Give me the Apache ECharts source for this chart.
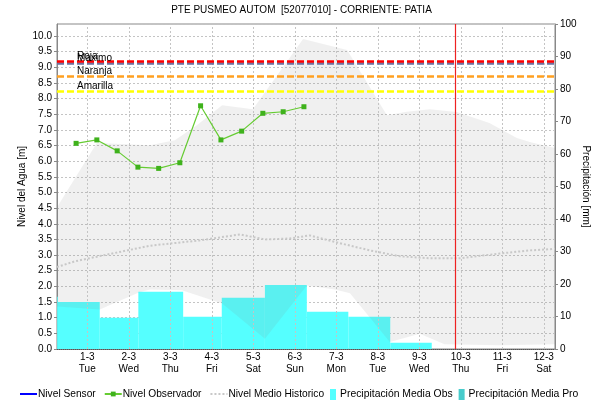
<!DOCTYPE html>
<html>
<head>
<meta charset="utf-8">
<script src="https://cdn.jsdelivr.net/npm/echarts@6/dist/echarts.min.js"></script>
<style>
  html, body { margin: 0; padding: 0; background: #ffffff; }
  #chart { width: 603px; height: 404px; }
</style>
</head>
<body>
<div id="chart"></div>
<script>
// Days on the horizontal axis: 1 = 1 March
const dayTicks = [1, 2, 3, 4, 5, 6, 7, 8, 9, 10, 11, 12];
const dateLabels = ['1-3', '2-3', '3-3', '4-3', '5-3', '6-3', '7-3', '8-3', '9-3', '10-3', '11-3', '12-3'];
const weekdayLabels = ['Tue', 'Wed', 'Thu', 'Fri', 'Sat', 'Sun', 'Mon', 'Tue', 'Wed', 'Thu', 'Fri', 'Sat'];

// Nivel Observador (m), twice a day
const obsTimes = [0.73, 1.23, 1.72, 2.22, 2.72, 3.23, 3.73, 4.22, 4.72, 5.23, 5.72, 6.22];
const obsLevels = [6.57, 6.68, 6.33, 5.81, 5.77, 5.95, 7.77, 6.68, 6.96, 7.53, 7.58, 7.74];

// Nivel Medio Historico (m)
const meanTimes = [0.27, 0.70, 1.23, 2.51, 3.71, 4.68, 5.28, 5.88, 6.36, 7.09, 7.81, 8.54, 9.26, 9.98, 10.94, 11.66, 12.27];
const meanLevels = [2.62, 2.80, 2.95, 3.30, 3.47, 3.66, 3.50, 3.53, 3.63, 3.38, 3.15, 2.96, 2.90, 2.90, 3.05, 3.15, 3.20];

// Historical range (m): upper and lower envelope
const bandUpperTimes = [0.27, 1.23, 2.51, 3.11, 3.64, 4.25, 4.99, 6.20, 7.26, 8.22, 8.70, 9.25, 9.90, 10.69, 11.35, 11.66, 12.27];
const bandUpperLevels = [4.53, 6.58, 6.51, 6.67, 7.15, 7.79, 7.66, 9.90, 9.55, 7.47, 7.58, 7.66, 7.57, 7.22, 6.74, 6.61, 6.42];
const bandLowerTimes = [0.27, 1.30, 2.27, 2.51, 3.28, 4.25, 5.28, 6.29, 6.97, 7.33, 8.29, 9.01, 9.61, 10.94, 12.27];
const bandLowerLevels = [1.36, 1.26, 1.82, 1.90, 1.88, 1.45, 0.33, 2.03, 1.90, 1.78, 0.22, 0.49, 0.15, 0.12, 0.15];

// Precipitación Media Obs (mm): period edges and totals
const precipEdges = [-0.71, 0.29, 1.30, 2.23, 3.31, 4.24, 5.28, 6.29, 7.29, 8.30, 9.30];
const precipObs = [16.1, 14.5, 9.6, 17.6, 9.9, 15.8, 19.7, 11.5, 9.9, 1.9];
const precipPro = [];
const nivelSensor = [];

// Alert thresholds (m)
const thresholdNames = ['Maximo', 'Roja', 'Naranja', 'Amarilla'];
const thresholdLevels = [9.13, 9.195, 8.72, 8.22];
const thresholdColors = ['#6e6e9e', '#ff0000', '#ffa020', '#ffff00'];

// Current time marker
const nowDay = 9.86;

const FONT = '"Liberation Sans Narrow", "Liberation Sans", Arial, sans-serif';
const X_MIN = 0.27, X_MAX = 12.27;

const chart = echarts.init(document.getElementById('chart'), null, { renderer: 'canvas' });

const zip = (xs, ys) => xs.map((x, i) => [x, ys[i]]);

const option = {
  animation: false,
  backgroundColor: '#ffffff',
  textStyle: { fontFamily: FONT },
  title: {
    text: 'PTE PUSMEO AUTOM  [52077010] - CORRIENTE: PATIA',
    left: 'center',
    top: 0,
    textStyle: { fontFamily: FONT, fontSize: 10, fontWeight: 'normal', color: '#000' }
  },
  grid: {
    left: 57, right: 48, top: 24, bottom: 55,
    show: true, borderColor: '#888', borderWidth: 1, backgroundColor: '#fff'
  },
  legend: [
    {
      data: [
        { name: 'Nivel Sensor', itemStyle: { opacity: 0 } },
        { name: 'Nivel Observador' },
        { name: 'Nivel Medio Historico', itemStyle: { opacity: 0 } }
      ],
      left: 14, top: 384, itemWidth: 17, itemHeight: 6, itemGap: 8,
      textStyle: { fontFamily: FONT, fontSize: 10.2, color: '#000', padding: [0, 0, 0, -4] }
    },
    {
      data: [
        { name: 'Precipitación Media Obs', icon: 'rect' },
        { name: 'Precipitación Media Pro', icon: 'rect' }
      ],
      left: 325, top: 384, itemWidth: 6, itemHeight: 11, itemGap: 6,
      textStyle: { fontFamily: FONT, fontSize: 10.4, color: '#000', padding: [0, 0, 0, -1] }
    }
  ],
  xAxis: {
    type: 'value', min: X_MIN, max: X_MAX,
    axisLine: { show: true, lineStyle: { color: '#555', type: [1, 1], width: 1 } },
    axisTick: { show: false, customValues: dayTicks },
    splitLine: { show: false },
    axisLabel: {
      customValues: dayTicks,
      fontFamily: FONT, fontSize: 10, color: '#000', lineHeight: 12, margin: 2,
      formatter: v => {
        const i = dayTicks.indexOf(Math.round(v));
        return i < 0 ? '' : dateLabels[i] + '\n' + weekdayLabels[i];
      }
    }
  },
  yAxis: [
    {
      type: 'value', min: 0, max: 10.383, interval: 0.5, position: 'left',
      name: 'Nivel del Agua [m]', nameLocation: 'middle', nameGap: 30, nameMoveOverlap: false,
      nameTextStyle: { fontFamily: FONT, fontSize: 10, color: '#000' },
      axisLine: { show: true, lineStyle: { color: '#888' } },
      axisTick: { show: true, inside: false, length: 3, lineStyle: { color: '#888' } },
      axisLabel: {
        fontFamily: FONT, fontSize: 10, color: '#000', margin: 5, showMaxLabel: false,
        formatter: v => v.toFixed(1)
      },
      splitLine: { show: true, lineStyle: { color: '#c4c4c4', type: [2, 2], width: 1 } }
    },
    {
      type: 'value', min: 0, max: 100, interval: 10, position: 'right',
      name: 'Precipitación [mm]', nameLocation: 'middle', nameGap: 26, nameRotate: -90, nameMoveOverlap: false,
      nameTextStyle: { fontFamily: FONT, fontSize: 10, color: '#000' },
      axisLine: { show: true, lineStyle: { color: '#888' } },
      axisTick: { show: true, inside: false, length: 3, lineStyle: { color: '#888' } },
      axisLabel: { fontFamily: FONT, fontSize: 10, color: '#000', margin: 5 },
      splitLine: { show: false }
    }
  ],
  series: [
    // daily vertical grid lines
    {
      name: 'grid-days', type: 'line', data: [], z: 1, silent: true,
      markLine: {
        silent: true, symbol: 'none', animation: false,
        label: { show: false },
        lineStyle: { color: '#c4c4c4', type: [2, 2], width: 1 },
        data: dayTicks.map(d => ({ xAxis: d }))
      }
    },
    {
      name: 'Precipitación Media Obs', type: 'custom', yAxisIndex: 1, z: 2, clip: true,
      itemStyle: { color: '#55ffff' },
      encode: { x: [0, 1], y: 2 },
      data: precipObs.map((v, i) => [precipEdges[i], precipEdges[i + 1], v]),
      renderItem: (params, api) => {
        const a = api.coord([api.value(0), api.value(2)]);
        const b = api.coord([api.value(1), 0]);
        return {
          type: 'rect',
          shape: { x: a[0], y: a[1], width: b[0] - a[0], height: b[1] - a[1] },
          style: { fill: '#55ffff' }
        };
      }
    },
    {
      name: 'Precipitación Media Pro', type: 'custom', yAxisIndex: 1, z: 2, clip: true,
      itemStyle: { color: '#48cccc' },
      data: precipPro,
      renderItem: () => null
    },
    {
      name: 'band', type: 'custom', yAxisIndex: 0, z: 3, clip: true, silent: true,
      data: [[bandUpperTimes[0], bandUpperLevels[0]]],
      renderItem: (params, api) => {
        const up = bandUpperTimes.map((t, i) => api.coord([t, bandUpperLevels[i]]));
        const lo = bandLowerTimes.map((t, i) => api.coord([t, bandLowerLevels[i]])).reverse();
        return {
          type: 'polygon',
          shape: { points: up.concat(lo) },
          style: { fill: 'rgba(128,128,128,0.12)' }
        };
      }
    },
    {
      name: 'Nivel Medio Historico', type: 'line', z: 4, symbol: 'none',
      data: zip(meanTimes, meanLevels),
      lineStyle: { color: '#c8c8c8', width: 2, type: [2, 2] },
      itemStyle: { color: '#c8c8c8' }
    },
    {
      name: 'Nivel Sensor', type: 'line', z: 5, symbol: 'none',
      data: nivelSensor,
      lineStyle: { color: '#0000ff', width: 1.5 },
      itemStyle: { color: '#0000ff' },
      markLine: {
        silent: true, symbol: 'none', animation: false,
        data: thresholdNames.map((n, i) => ({
          yAxis: thresholdLevels[i], name: n,
          lineStyle: { color: thresholdColors[i], type: [7, 3], width: 2.5 },
          label: {
            show: true, formatter: n, position: 'insideStartTop', distance: [20, 0],
            fontFamily: FONT, fontSize: 10, color: '#000'
          }
        })).concat([{
          xAxis: nowDay, name: 'now',
          lineStyle: { color: '#ee2222', type: 'solid', width: 1.2 },
          label: { show: false }
        }])
      }
    },
    {
      name: 'Nivel Observador', type: 'line', z: 6,
      data: zip(obsTimes, obsLevels),
      symbol: 'rect', symbolSize: 5,
      lineStyle: { color: '#66cc33', width: 1.2 },
      itemStyle: { color: '#3fb21c' }
    }
  ]
};

chart.setOption(option);
</script>
</body>
</html>
